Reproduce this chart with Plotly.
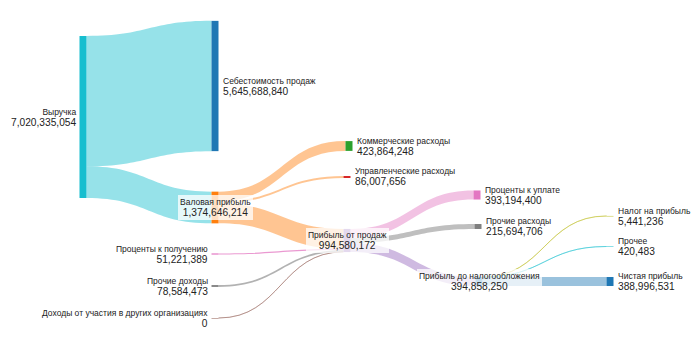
import plotly.graph_objects as go

# ---------------- data ----------------
node_names = [
    "Выручка", "Себестоимость продаж", "Валовая прибыль", "Коммерческие расходы",
    "Управленческие расходы", "Прибыль от продаж", "Проценты к получению",
    "Прочие доходы", "Доходы от участия в других организациях", "Проценты к уплате",
    "Прочие расходы", "Прибыль до налогообложения", "Налог на прибыль", "Прочее",
    "Чистая прибыль",
]
node_values = [
    7020335054, 5645688840, 1374646214, 423864248, 86007656, 994580172,
    51221389, 78584473, 0, 393194400, 215694706, 394858250, 5441236, 420483,
    388996531,
]
link_source = [0, 0, 2, 2, 2, 6, 7, 8, 5, 5, 5, 11, 11, 11]
link_target = [1, 2, 3, 4, 5, 5, 5, 5, 9, 10, 11, 12, 13, 14]
link_values = [
    5645688840, 1374646214, 423864248, 86007656, 864774310, 51221389, 78584473,
    0, 393194400, 215694706, 394858250, 5441236, 420483, 388996531,
]

# ---------------- layout / style ----------------
W, H = 700, 350
node_px_x = [83, 215, 215, 349, 347, 347, 215, 215, 215, 477, 478, 479, 610, 610, 610]
node_px_y = [117, 86, 207.5, 146, 177, 240.5, 254, 286, 318, 195, 226.5, 281.5, 216, 246.5, 281.5]
label_side = ["l", "r", "c", "r", "r", "c", "l", "l", "l", "r", "r", "c", "r", "r", "r"]

node_colors = [
    "#17becf", "#1f77b4", "#ff7f0e", "#2ca02c", "#d62728", "#9467bd", "#e377c2",
    "#7f7f7f", "#8c564b", "#e377c2", "#7f7f7f", "#1f77b4", "#bcbd22", "#17becf",
    "#1f77b4",
]
link_colors = [
    "rgba(23,190,207,0.45)", "rgba(23,190,207,0.45)",
    "rgba(255,127,14,0.45)", "rgba(255,127,14,0.45)", "rgba(255,127,14,0.45)",
    "rgba(227,119,194,0.75)", "rgba(127,127,127,0.6)", "rgba(140,86,75,0.4)",
    "rgba(227,119,194,0.45)", "rgba(127,127,127,0.5)", "rgba(148,103,189,0.45)",
    "rgba(188,189,34,0.45)", "rgba(23,190,207,0.45)", "rgba(31,119,180,0.45)",
]

# a zero-value link would be dropped by the layout; keep a minimal drawable value
draw_values = [v if v > 0 else 1 for v in link_values]

fig = go.Figure(go.Sankey(
    arrangement="fixed",
    domain=dict(x=[0, 1], y=[0, 1]),
    node=dict(
        label=["" for _ in node_names],
        color=node_colors,
        thickness=7,
        pad=26.4,
        line=dict(width=0),
        x=[x / W for x in node_px_x],
        y=[y / H for y in node_px_y],
        hoverinfo="none",
    ),
    link=dict(
        source=link_source,
        target=link_target,
        value=draw_values,
        color=link_colors,
        line=dict(width=0),
        hoverinfo="none",
    ),
))

annotations = []
for i, name in enumerate(node_names):
    text = (f"<span style='font-size:8.5px'>{name}</span><br>"
            f"<span style='font-size:10.2px'>{node_values[i]:,}</span>")
    side = label_side[i]
    if side == "l":
        x, xa, al, bg = (node_px_x[i] - 5.5) / W, "right", "right", "rgba(0,0,0,0)"
    elif side == "r":
        x, xa, al, bg = (node_px_x[i] + 5.5) / W, "left", "left", "rgba(0,0,0,0)"
    else:
        x, xa, al, bg = node_px_x[i] / W, "center", "center", "rgba(255,255,255,0.75)"
    annotations.append(dict(
        x=x, y=1 - node_px_y[i] / H, xref="paper", yref="paper",
        xanchor=xa, yanchor="middle", align=al, showarrow=False,
        text=text, bgcolor=bg, borderpad=2, borderwidth=0,
        font=dict(family="Liberation Sans, Arial, sans-serif", size=8.8, color="#222222"),
    ))

fig.update_layout(
    width=W, height=H,
    margin=dict(l=0, r=0, t=0, b=0),
    paper_bgcolor="white",
    plot_bgcolor="white",
    annotations=annotations,
)

fig.write_html("out.html")
